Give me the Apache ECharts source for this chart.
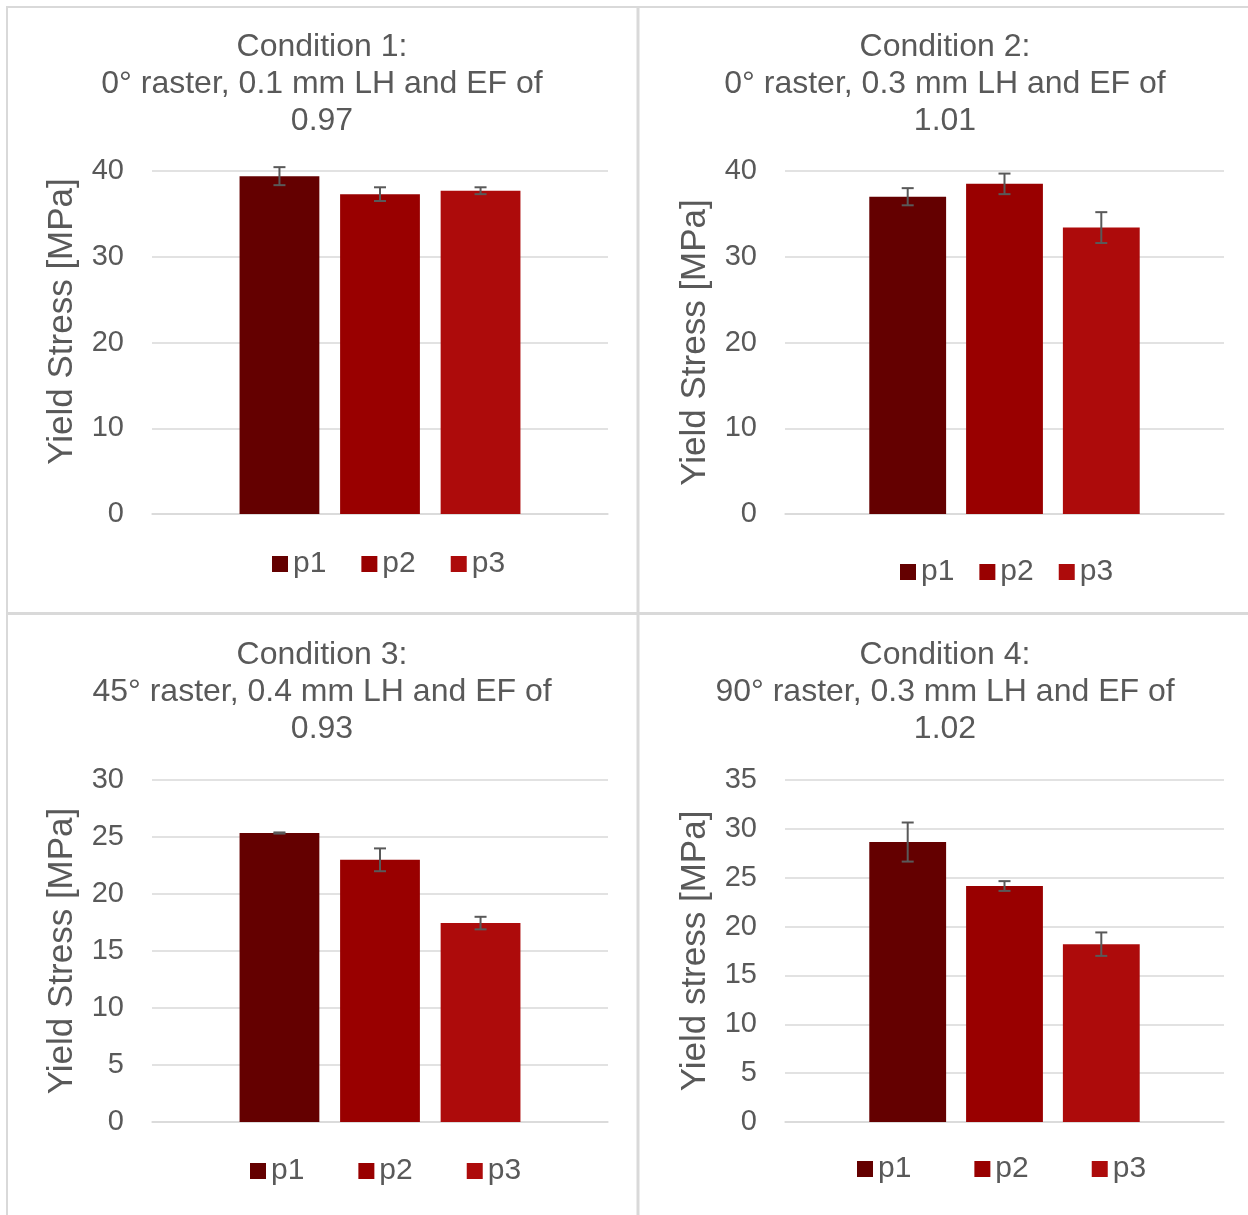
<!DOCTYPE html>
<html>
<head>
<meta charset="utf-8">
<title>Yield stress by condition</title>
<script src="https://cdn.jsdelivr.net/npm/echarts@6/dist/echarts.min.js"></script>
<style>
  html, body { margin: 0; padding: 0; background: #ffffff; }
  #chart { width: 1248px; height: 1215px; }
</style>
</head>
<body>
<div id="chart"></div>
<script>
// Specimen positions shown in every panel
const positions = ['p1', 'p2', 'p3'];
const positionColors = ['#640000', '#990000', '#AD0B0B'];

// Panel titles and axis names
const panelTitles = [
  'Condition 1:\n0° raster, 0.1 mm LH and EF of\n0.97',
  'Condition 2:\n0° raster, 0.3 mm LH and EF of\n1.01',
  'Condition 3:\n45° raster, 0.4 mm LH and EF of\n0.93',
  'Condition 4:\n90° raster, 0.3 mm LH and EF of\n1.02'
];
const axisNames = ['Yield Stress [MPa]', 'Yield Stress [MPa]', 'Yield Stress [MPa]', 'Yield stress [MPa]'];

// Mean yield stress [MPa] and standard deviation per position
const cond1Mean = [39.4, 37.3, 37.7];
const cond1Err  = [1.05, 0.8, 0.4];
const cond2Mean = [37.0, 38.5, 33.4];
const cond2Err  = [1.0, 1.2, 1.8];
const cond3Mean = [25.35, 23.0, 17.45];
const cond3Err  = [0.05, 1.0, 0.55];
const cond4Mean = [28.65, 24.15, 18.2];
const cond4Err  = [2.0, 0.5, 1.2];

// Value-axis ranges
const axisMax      = [40, 40, 30, 35];
const axisInterval = [10, 10, 5, 5];

const means = [cond1Mean, cond2Mean, cond3Mean, cond4Mean];
const errs  = [cond1Err, cond2Err, cond3Err, cond4Err];

const FONT = "'Liberation Sans', Arial, sans-serif";
const TEXT = '#595959';
const GRIDLINE = '#d9d9d9';
const BAR_W = 0.175;   // bar width as a share of the category band
const BAR_GAP = 0.26;  // gap between bars as a share of bar width

const gridBoxes = [
  { left: 152, right: 640, top: 171, bottom: 701 },
  { left: 785, right: 24,  top: 171, bottom: 701 },
  { left: 152, right: 640, top: 780, bottom: 93 },
  { left: 785, right: 24,  top: 780, bottom: 93 }
];
const titleSpots = [
  { left: 322, top: 29 }, { left: 945, top: 29 },
  { left: 322, top: 637 }, { left: 945, top: 637 }
];
const legendSpots = [
  { left: 272, top: 549, itemGap: 35 },
  { left: 900, top: 557, itemGap: 25 },
  { left: 250, top: 1156, itemGap: 54 },
  { left: 857, top: 1154, itemGap: 63 }
];
const namePads = [[0, 0, 0, 42], 0, 0, 0];

const option = {
  backgroundColor: '#ffffff',
  animation: false,
  textStyle: { fontFamily: FONT },
  title: panelTitles.map((t, i) => ({
    text: t,
    left: titleSpots[i].left,
    top: titleSpots[i].top,
    textAlign: 'center',
    padding: 0,
    textStyle: { fontFamily: FONT, fontSize: 32, fontWeight: 'normal', color: TEXT, lineHeight: 37 }
  })),
  legend: legendSpots.map(s => ({
    data: positions,
    left: s.left,
    top: s.top,
    itemGap: s.itemGap,
    itemWidth: 16,
    itemHeight: 16,
    icon: 'rect',
    padding: 0,
    textStyle: { fontFamily: FONT, fontSize: 30, color: TEXT }
  })),
  grid: gridBoxes.map(g => Object.assign({ containLabel: false }, g)),
  xAxis: gridBoxes.map((g, i) => ({
    type: 'category',
    gridIndex: i,
    data: [''],
    axisLine: { show: true, lineStyle: { color: GRIDLINE, width: 1.5 } },
    axisTick: { show: false },
    axisLabel: { show: false }
  })),
  yAxis: gridBoxes.map((g, i) => ({
    type: 'value',
    gridIndex: i,
    min: 0,
    max: axisMax[i],
    interval: axisInterval[i],
    name: axisNames[i],
    nameLocation: 'middle',
    nameGap: 72,
    nameTextStyle: { fontFamily: FONT, fontSize: 35, color: TEXT, padding: namePads[i] },
    axisLine: { show: false },
    axisTick: { show: false },
    axisLabel: { fontFamily: FONT, fontSize: 29, color: TEXT, margin: 28 },
    splitLine: { lineStyle: { color: GRIDLINE, width: 1.5 } }
  })),
  graphic: [
    { type: 'line', shape: { x1: 6, y1: 7, x2: 1248, y2: 7 }, style: { stroke: GRIDLINE, lineWidth: 2 } },
    { type: 'line', shape: { x1: 7, y1: 6, x2: 7, y2: 1215 }, style: { stroke: GRIDLINE, lineWidth: 2 } },
    { type: 'line', shape: { x1: 638, y1: 7, x2: 638, y2: 1215 }, style: { stroke: GRIDLINE, lineWidth: 3 } },
    { type: 'line', shape: { x1: 6, y1: 613.5, x2: 1248, y2: 613.5 }, style: { stroke: GRIDLINE, lineWidth: 3 } }
  ],
  series: []
};

for (let g = 0; g < 4; g++) {
  positions.forEach((p, k) => {
    option.series.push({
      type: 'bar',
      name: p,
      xAxisIndex: g,
      yAxisIndex: g,
      barWidth: (BAR_W * 100) + '%',
      barGap: (BAR_GAP * 100) + '%',
      itemStyle: { color: positionColors[k] },
      data: [means[g][k]]
    });
  });
  // Error bars: [category, low, high, position index]
  option.series.push({
    type: 'custom',
    name: 'error',
    xAxisIndex: g,
    yAxisIndex: g,
    z: 10,
    data: means[g].map((m, k) => [0, m - errs[g][k], m + errs[g][k], k]),
    renderItem: function (params, api) {
      const band = api.size([1, 0])[0];
      const barW = band * BAR_W;
      const k = api.value(3);
      const cx = api.coord([0, 0])[0] + (k - 1) * barW * (1 + BAR_GAP);
      const lo = api.coord([0, api.value(1)])[1];
      const hi = api.coord([0, api.value(2)])[1];
      const cap = 6;
      const style = { stroke: '#595959', lineWidth: 2, fill: null };
      return {
        type: 'group',
        children: [
          { type: 'line', shape: { x1: cx, y1: lo, x2: cx, y2: hi }, style: style },
          { type: 'line', shape: { x1: cx - cap, y1: lo, x2: cx + cap, y2: lo }, style: style },
          { type: 'line', shape: { x1: cx - cap, y1: hi, x2: cx + cap, y2: hi }, style: style }
        ]
      };
    }
  });
}

const chart = echarts.init(document.getElementById('chart'), null, { renderer: 'canvas' });
chart.setOption(option);
</script>
</body>
</html>
